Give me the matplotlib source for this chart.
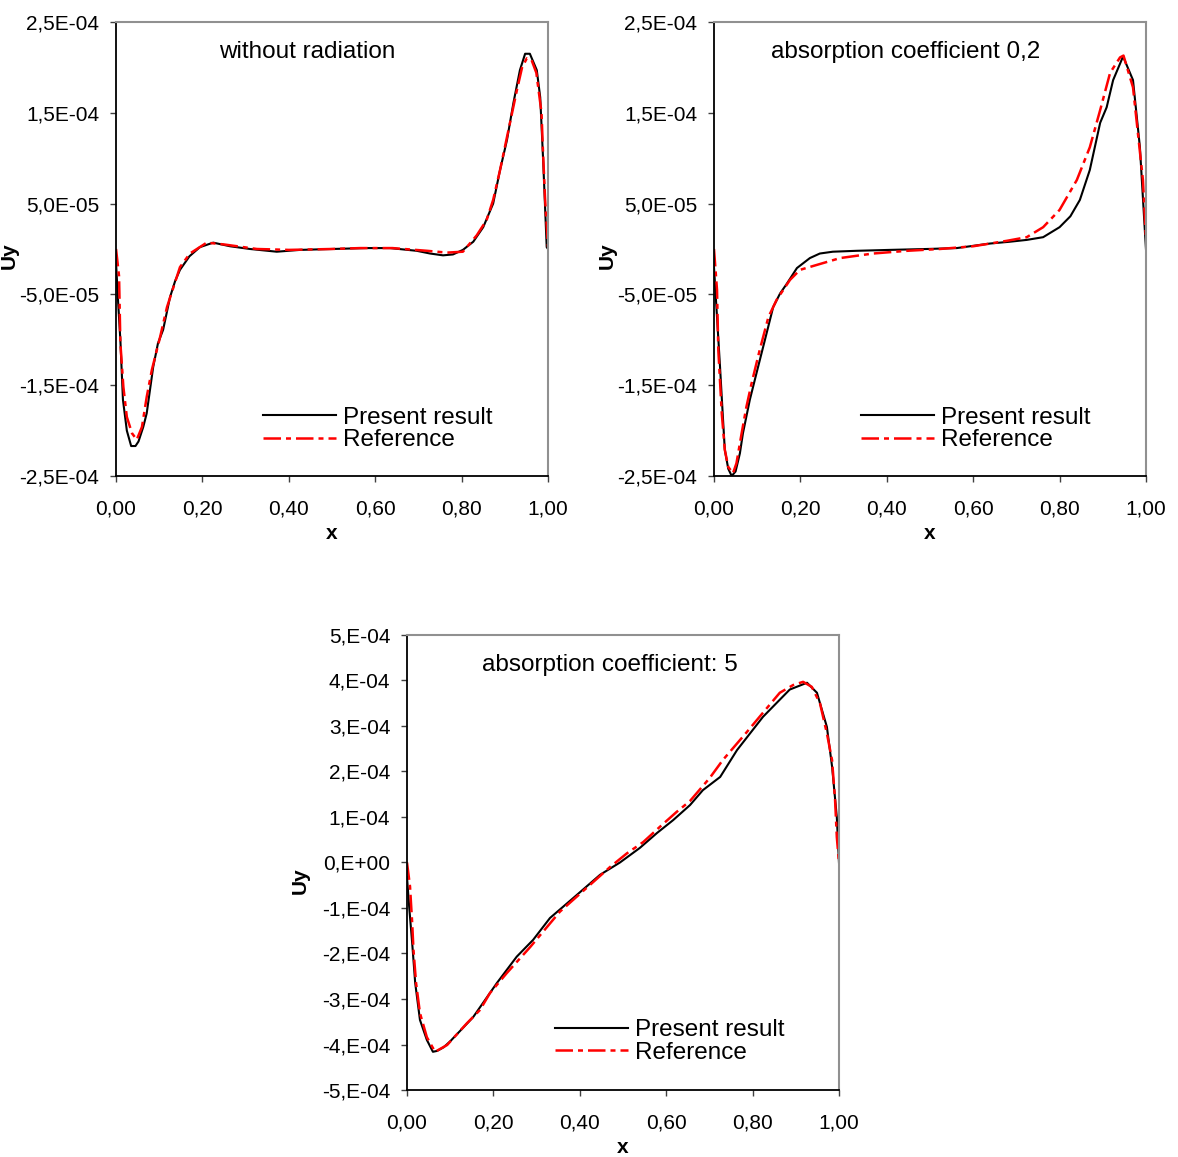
import numpy as np
import matplotlib
matplotlib.use("Agg")
import matplotlib.pyplot as plt
from matplotlib.ticker import FixedLocator, FixedFormatter

plt.rcParams['font.family'] = ['Liberation Sans', 'DejaVu Sans']

# values of Uy in units of 1e-4
# --- without radiation
wr_x_present = [0, 0.005, 0.01, 0.016, 0.025, 0.035, 0.045, 0.052, 0.063, 0.071, 0.086, 0.097,
                0.109, 0.125, 0.137, 0.148, 0.17, 0.194, 0.225, 0.264, 0.31, 0.372, 0.426, 0.5,
                0.58, 0.634, 0.696, 0.727, 0.757, 0.78, 0.803, 0.827, 0.85, 0.873, 0.889, 0.905,
                0.92, 0.935, 0.947, 0.958, 0.974, 0.982, 0.989, 0.997, 1.0]
wr_present = [-0.15, -0.6, -1.0, -1.66, -2.0, -2.17, -2.17, -2.12, -1.96, -1.81, -1.30, -1.04,
              -0.89, -0.53, -0.35, -0.23, -0.08, 0.02, 0.07, 0.03, 0.0, -0.03, -0.01, 0.0,
              0.01, 0.01, -0.02, -0.05, -0.07, -0.06, -0.01, 0.08, 0.24, 0.50, 0.87, 1.2,
              1.61, 1.97, 2.15, 2.15, 1.97, 1.67, 0.95, 0.02, 0.0]
wr_x_ref = [0, 0.007, 0.01, 0.017, 0.025, 0.037, 0.048, 0.06, 0.071, 0.083, 0.102, 0.118, 0.133,
            0.148, 0.171, 0.21, 0.25, 0.326, 0.4, 0.5, 0.565, 0.64, 0.72, 0.766, 0.803, 0.835,
            0.858, 0.873, 0.889, 0.912, 0.928, 0.94, 0.951, 0.962, 0.973, 0.985, 0.988, 0.993, 1.0]
wr_ref = [0.0, -0.3, -1.03, -1.52, -1.85, -2.03, -2.1, -1.96, -1.63, -1.33, -0.97, -0.64, -0.42,
          -0.2, -0.05, 0.07, 0.05, 0.0, -0.01, 0.0, 0.01, 0.01, -0.02, -0.04, -0.03, 0.15,
          0.32, 0.54, 0.87, 1.39, 1.75, 2.0, 2.1, 2.08, 1.94, 1.5, 1.12, 0.57, 0.02]

# --- absorption coefficient 0,2
ac02_x_present = [0, 0.007, 0.014, 0.02, 0.025, 0.033, 0.041, 0.05, 0.06, 0.067, 0.083, 0.102,
                  0.118, 0.137, 0.153, 0.169, 0.192, 0.222, 0.245, 0.275, 0.33, 0.407, 0.493,
                  0.562, 0.639, 0.685, 0.724, 0.762, 0.80, 0.825, 0.847, 0.87, 0.894, 0.909,
                  0.924, 0.947, 0.97, 0.986, 1.0]
ac02_present = [-0.2, -0.75, -1.3, -1.8, -2.21, -2.42, -2.5, -2.45, -2.25, -2.03, -1.66, -1.3,
                -1.0, -0.64, -0.49, -0.38, -0.21, -0.1, -0.05, -0.03, -0.02, -0.01, 0.0,
                0.01, 0.06, 0.08, 0.1, 0.13, 0.24, 0.36, 0.54, 0.87, 1.39, 1.56,
                1.86, 2.12, 1.86, 1.12, 0.0]
ac02_x_ref = [0, 0.007, 0.01, 0.018, 0.025, 0.033, 0.044, 0.052, 0.064, 0.075, 0.087, 0.106,
              0.126, 0.145, 0.176, 0.199, 0.292, 0.368, 0.447, 0.523, 0.6, 0.678, 0.724, 0.762,
              0.80, 0.84, 0.87, 0.894, 0.917, 0.94, 0.948, 0.97, 0.993, 1.0]
ac02_ref = [0.0, -0.45, -1.11, -1.81, -2.21, -2.4, -2.47, -2.36, -2.03, -1.74, -1.48, -1.11,
            -0.75, -0.56, -0.34, -0.23, -0.1, -0.05, -0.02, 0.0, 0.03, 0.09, 0.13, 0.24,
            0.43, 0.76, 1.12, 1.53, 1.94, 2.11, 2.13, 1.78, 0.76, 0.1]

# --- absorption coefficient: 5
ac5_x_present = [0, 0.005, 0.012, 0.019, 0.03, 0.046, 0.06, 0.07, 0.085, 0.1, 0.153, 0.208,
                 0.254, 0.292, 0.331, 0.385, 0.447, 0.493, 0.539, 0.579, 0.616, 0.655, 0.685,
                 0.725, 0.764, 0.824, 0.886, 0.926, 0.949, 0.972, 0.984, 0.995, 1.0]
ac5_present = [-0.32, -0.97, -1.77, -2.65, -3.46, -3.9, -4.16, -4.14, -4.06, -3.93, -3.4, -2.65,
               -2.07, -1.7, -1.22, -0.78, -0.27, 0.0, 0.32, 0.65, 0.93, 1.26, 1.59,
               1.88, 2.47, 3.2, 3.8, 3.95, 3.73, 2.98, 2.11, 1.0, 0.0]
ac5_x_ref = [0, 0.007, 0.012, 0.015, 0.021, 0.03, 0.046, 0.065, 0.093, 0.139, 0.169, 0.192,
             0.231, 0.285, 0.354, 0.431, 0.47, 0.509, 0.547, 0.585, 0.624, 0.655, 0.701,
             0.731, 0.787, 0.824, 0.863, 0.894, 0.917, 0.937, 0.956, 0.972, 0.984, 0.991,
             0.995, 1.0]
ac5_ref = [0.0, -0.53, -1.33, -1.92, -2.65, -3.31, -3.84, -4.16, -4.01, -3.53, -3.24, -2.87,
           -2.43, -1.86, -1.08, -0.43, -0.1, 0.2, 0.45, 0.78, 1.11, 1.35, 1.86,
           2.25, 2.87, 3.29, 3.73, 3.9, 3.97, 3.86, 3.5, 2.84, 2.25, 1.37, 0.56, 0.0]

titles = ["without radiation", "absorption coefficient 0,2", "absorption coefficient: 5"]
series_names = ["Present result", "Reference"]
x_ticks = [0, 0.2, 0.4, 0.6, 0.8, 1.0]
x_tick_labels = ["0,00", "0,20", "0,40", "0,60", "0,80", "1,00"]
top_y_ticks = [-2.5e-4, -1.5e-4, -5e-5, 5e-5, 1.5e-4, 2.5e-4]
top_y_labels = ["-2,5E-04", "-1,5E-04", "-5,0E-05", "5,0E-05", "1,5E-04", "2,5E-04"]
bot_y_ticks = [-5e-4, -4e-4, -3e-4, -2e-4, -1e-4, 0, 1e-4, 2e-4, 3e-4, 4e-4, 5e-4]
bot_y_labels = ["-5,E-04", "-4,E-04", "-3,E-04", "-2,E-04", "-1,E-04", "0,E+00",
                "1,E-04", "2,E-04", "3,E-04", "4,E-04", "5,E-04"]

fig = plt.figure(figsize=(11.78, 11.57), dpi=100)

ax_tl = fig.add_axes([0.0985, 0.5886, 0.3667, 0.3924])
ax_tr = fig.add_axes([0.6061, 0.5886, 0.3667, 0.3924])
ax_b = fig.add_axes([0.3455, 0.0579, 0.3667, 0.3933])

# axes, data, y ticks, title position, legend anchor, ylabel height
panels = [
    (ax_tl, wr_x_present, wr_present, wr_x_ref, wr_ref, top_y_ticks, top_y_labels,
     (0.442, 0.933), (0.34, 0.152), 0.485),
    (ax_tr, ac02_x_present, ac02_present, ac02_x_ref, ac02_ref, top_y_ticks, top_y_labels,
     (0.444, 0.933), (0.34, 0.152), 0.485),
    (ax_b, ac5_x_present, ac5_present, ac5_x_ref, ac5_ref, bot_y_ticks, bot_y_labels,
     (0.47, 0.933), (0.343, 0.155), 0.46),
]

for i, (ax, xp, yp, xr, yr, yt, ytl, tpos, lpos, ylab_y) in enumerate(panels):
    ax.plot(xp, np.array(yp) * 1e-4, color="black", lw=1.5, label=series_names[0])
    ax.plot(xr, np.array(yr) * 1e-4, color="red", lw=1.8, linestyle=(0, (7, 2, 2, 2)),
            label=series_names[1])
    ax.set_xlim(0, 1)
    ax.set_ylim(yt[0], yt[-1])
    ax.xaxis.set_major_locator(FixedLocator(x_ticks))
    ax.xaxis.set_major_formatter(FixedFormatter(x_tick_labels))
    ax.yaxis.set_major_locator(FixedLocator(yt))
    ax.yaxis.set_major_formatter(FixedFormatter(ytl))
    ax.tick_params(direction="out", length=4, width=1, color="#404040", labelsize=15)
    ax.tick_params(axis="y", pad=8)
    ax.tick_params(axis="x", pad=13)
    ax.spines["left"].set_color("black")
    ax.spines["bottom"].set_color("black")
    ax.spines["left"].set_linewidth(1.3)
    ax.spines["bottom"].set_linewidth(1.3)
    ax.spines["top"].set_color("#909090")
    ax.spines["right"].set_color("#909090")
    ax.spines["top"].set_linewidth(1.5)
    ax.spines["right"].set_linewidth(1.5)
    ax.set_xlabel("x", fontsize=15, fontweight="bold", labelpad=4)
    ax.set_ylabel("Uy", fontsize=15, fontweight="bold")
    ax.yaxis.set_label_coords(-0.225, ylab_y)
    ax.text(tpos[0], tpos[1], titles[i], transform=ax.transAxes, ha="center", va="center",
            fontsize=17.5)
    ax.legend(loc="upper left", bbox_to_anchor=lpos, frameon=False, fontsize=17.5,
              handlelength=3.0, handletextpad=0.28, labelspacing=0.0, borderpad=0,
              borderaxespad=0)

fig.savefig("out.png", dpi=100)
